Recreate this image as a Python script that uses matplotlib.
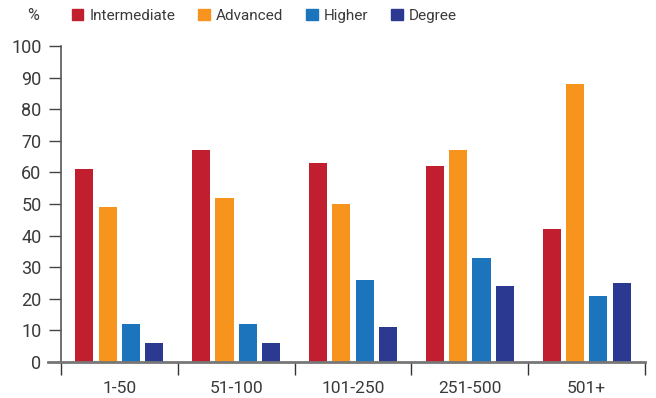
import numpy as np
import matplotlib.pyplot as plt
from matplotlib.patches import Patch

# data
categories = ["1-50", "51-100", "101-250", "251-500", "501+"]
series_names = ["Intermediate", "Advanced", "Higher", "Degree"]
intermediate = [61, 67, 63, 62, 42]
advanced = [49, 52, 50, 67, 88]
higher = [12, 12, 26, 33, 21]
degree = [6, 6, 11, 24, 25]
yticks = list(range(0, 101, 10))

colors = ["#C11F30", "#F7941E", "#1C75BC", "#2B3990"]
text_col = "#3a3a3a"

plt.rcParams['font.family'] = ['Roboto', 'DejaVu Sans']

fig = plt.figure(figsize=(6.56, 3.98), dpi=100)
ax = fig.add_axes([61/656, 1 - 362/398, (645 - 61)/656, (362 - 46)/398])

x = np.arange(len(categories))
width = 0.155
step = 0.2
all_series = [intermediate, advanced, higher, degree]
for i, vals in enumerate(all_series):
    ax.bar(x + (i - 1.5) * step, vals, width, color=colors[i], zorder=2)

ax.set_xlim(-0.5, len(categories) - 0.5)
ax.set_ylim(0, 100)

for s in ["top", "right", "bottom"]:
    ax.spines[s].set_visible(False)
ax.spines["left"].set_color("#555555")
ax.spines["left"].set_linewidth(1.2)
ax.spines["left"].set_bounds(0, 100)

# zero line sticking out a bit to the left
ax.axhline(0, xmin=-0.022, xmax=1, color="#777777", lw=2, clip_on=False, zorder=3)

ax.set_yticks(yticks)
ax.tick_params(axis='y', length=9, width=1, color="#444444", labelsize=13,
               labelcolor=text_col, pad=5)

ax.set_xticks(x)
ax.set_xticklabels(categories)
ax.tick_params(axis='x', which='major', length=0, labelsize=12.5, labelcolor=text_col, pad=14)
ax.set_xticks(np.arange(-0.5, len(categories)), minor=True)
ax.tick_params(axis='x', which='minor', length=9, width=1, color="#333333", direction='out')

fig.text(33/656, 1 - 16/398, "%", fontsize=11.5, color=text_col, ha='center', va='center')

handles = [Patch(color=c) for c in colors]
fig.legend(handles, series_names, loc='center left', bbox_to_anchor=(72/656, 1 - 16/398),
           ncol=4, frameon=False, fontsize=11, handlelength=0.75, handleheight=0.75,
           handletextpad=0.4, columnspacing=1.5, labelcolor=text_col, borderaxespad=0,
           borderpad=0)

fig.savefig("out.png", dpi=100)
